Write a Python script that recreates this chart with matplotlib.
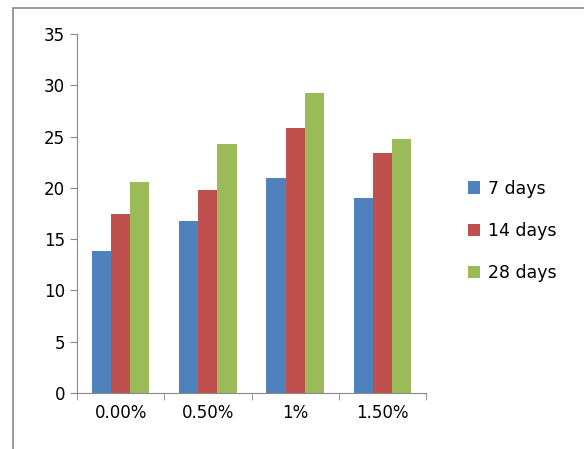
import matplotlib
matplotlib.use("Agg")
import matplotlib.pyplot as plt
import numpy as np
from matplotlib.patches import Rectangle

categories = ["0.00%", "0.50%", "1%", "1.50%"]
series_names = ["7 days", "14 days", "28 days"]
days7 = [13.8, 16.75, 21.0, 19.0]
days14 = [17.5, 19.8, 25.8, 23.4]
days28 = [20.6, 24.25, 29.2, 24.8]
colors = ["#4F81BD", "#C0504D", "#9BBB59"]

fig = plt.figure(figsize=(5.84, 4.49), dpi=100)
# outer chart frame (top and left edges visible in the reference)
fig.patches.append(Rectangle((13 / 584, -0.1), 2, 1.1 - 8 / 449, transform=fig.transFigure,
                             fill=False, edgecolor="#888888", lw=1.2))
ax = fig.add_axes([77 / 584, 1 - 393 / 449, (426 - 77) / 584, (393 - 34) / 449])

x = np.arange(len(categories))
w = 0.22
for i, (vals, name) in enumerate(zip([days7, days14, days28], series_names)):
    ax.bar(x + (i - 1) * w, vals, w, color=colors[i], label=name)

ax.set_xlim(-0.5, 3.5)
ax.set_ylim(0, 35)
ax.set_yticks(range(0, 36, 5))
ax.set_xticks(x)
ax.set_xticklabels(categories)
ax.set_xticks(np.arange(-0.5, 4, 1), minor=True)
ax.tick_params(axis="x", which="major", length=0, pad=8)
ax.tick_params(axis="x", which="minor", length=5, color="#888888")
ax.tick_params(axis="y", length=5, color="#888888", direction="out")
for s in ["top", "right"]:
    ax.spines[s].set_visible(False)
for s in ["left", "bottom"]:
    ax.spines[s].set_color("#888888")
for lbl in ax.get_xticklabels() + ax.get_yticklabels():
    lbl.set_fontsize(12)

leg = ax.legend(loc="upper left", bbox_to_anchor=(452 / 584, 1 - 164 / 449),
                bbox_transform=fig.transFigure, frameon=False, fontsize=12.5,
                handlelength=0.7, handleheight=0.7, handletextpad=0.5,
                labelspacing=1.4)
fig.savefig("out.png")
